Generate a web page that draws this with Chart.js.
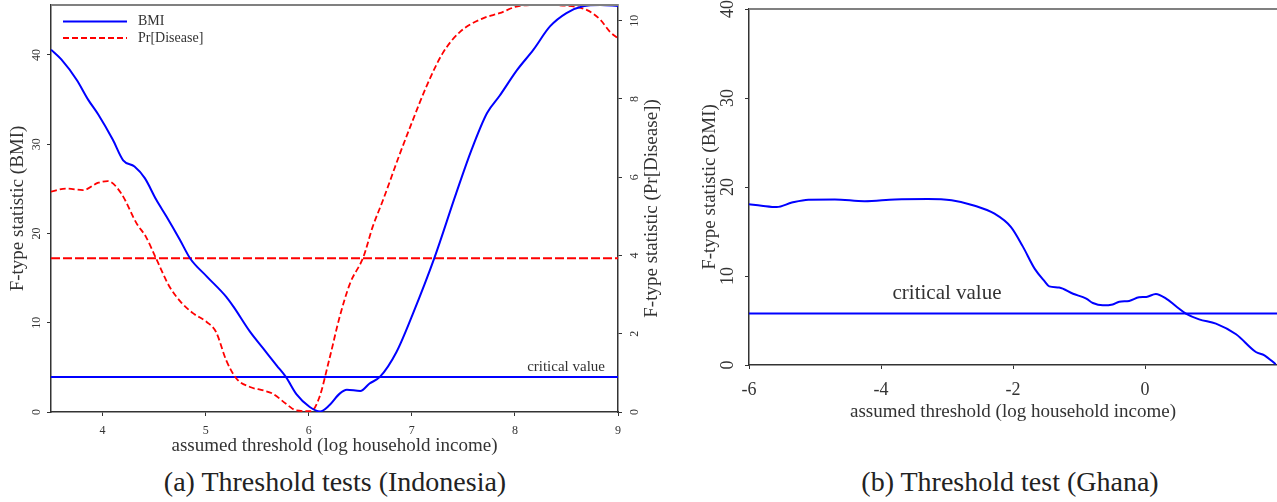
<!DOCTYPE html>
<html><head><meta charset="utf-8">
<script src="https://cdn.jsdelivr.net/npm/chart.js@4.4.1/dist/chart.umd.min.js"></script>
<style>
html,body{margin:0;padding:0;background:#fff;width:1277px;height:502px;overflow:hidden;position:relative}
#c1wrap{position:absolute;left:0;top:0;width:680px;height:460px}
#c2wrap{position:absolute;left:680px;top:0;width:597px;height:430px}
.cap{position:absolute;top:466px;font-family:"Liberation Serif",serif;font-size:28px;color:#222;white-space:nowrap;transform:translateX(-50%);line-height:32px}
</style></head>
<body>
<div id="c1wrap"><canvas id="c1"></canvas></div>
<div id="c2wrap"><canvas id="c2"></canvas></div>
<div class="cap" style="left:335px">(a) Threshold tests (Indonesia)</div>
<div class="cap" style="left:1010px">(b) Threshold test (Ghana)</div>
<script>
// ---------- Data: Indonesia ----------
const idnBmiX = [3.50,3.60,3.75,3.86,3.96,4.10,4.20,4.31,4.41,4.52,4.62,4.75,4.85,5.01,5.20,5.27,5.43,5.56,5.69,5.78,5.88,6.01,6.11,6.20,6.30,6.37,6.50,6.59,6.69,6.85,7.01,7.22,7.43,7.58,7.73,7.85,8.02,8.18,8.34,8.50,8.66,8.83,9.00];
const idnBmiY = [40.6,39.5,37.2,35.0,33.3,30.5,28.2,27.5,26.2,23.8,21.9,19.3,17.2,15.2,12.9,11.8,9.0,7.1,5.2,3.9,2.0,0.56,0.05,0.75,2.06,2.5,2.36,3.19,3.93,6.7,11.0,17.3,24.5,29.4,33.5,35.4,38.3,40.6,43.2,44.7,45.45,45.6,45.5];
const idnPrX = [3.50,3.65,3.81,3.96,4.05,4.18,4.33,4.42,4.52,4.65,4.76,4.88,5.01,5.10,5.20,5.30,5.43,5.56,5.65,5.78,5.88,6.02,6.10,6.20,6.30,6.40,6.53,6.62,6.72,6.88,7.01,7.14,7.30,7.47,7.69,7.85,8.05,8.24,8.50,8.70,8.83,8.92,9.00];
const idnPrY = [5.63,5.71,5.67,5.86,5.90,5.59,4.82,4.48,3.92,3.20,2.81,2.52,2.30,2.05,1.32,0.85,0.64,0.55,0.47,0.21,0.04,0.02,0.35,1.35,2.43,3.28,3.96,4.73,5.41,6.57,7.46,8.31,9.17,9.72,10.06,10.19,10.38,10.40,10.38,10.27,10.02,9.72,9.55];
const idnCrit = 3.93;
const idnXTicks = [4,5,6,7,8,9];
const idnBmiTicks = [0,10,20,30,40];
const idnPrTicks = [0,2,4,6,8,10];

// ---------- Data: Ghana ----------
const ghaX = [-6.00,-5.81,-5.58,-5.35,-5.10,-4.70,-4.25,-3.79,-3.29,-2.93,-2.58,-2.28,-2.03,-1.85,-1.67,-1.52,-1.45,-1.30,-1.09,-0.89,-0.79,-0.64,-0.49,-0.39,-0.24,-0.09,0.02,0.165,0.32,0.47,0.62,0.82,1.075,1.38,1.68,1.81,1.98];
const ghaY = [18.06,17.9,17.75,18.25,18.58,18.6,18.4,18.6,18.65,18.5,17.9,17.0,15.5,13.3,10.8,9.4,8.84,8.7,8.0,7.46,6.97,6.7,6.8,7.1,7.2,7.6,7.65,7.98,7.46,6.6,5.78,5.13,4.65,3.45,1.46,1.09,0.08];
const ghaCrit = 5.78;
const ghaXTicks = [-6,-4,-2,0];
const ghaYTicks = [0,10,20,30,40];
const ghaLabelX = -3;

const BLUE = '#0000ff', RED = '#ff0000', INK = '#333333';
const SERIF = '"Liberation Serif", "Times New Roman", serif';
const zip = (xs, ys) => xs.map((x, i) => ({x, y: ys[i]}));
const setTicks = arr => s => { s.ticks = arr.map(v => ({value: v})); };
const fixW = w => s => { s.width = w; s.paddingTop = 0; s.paddingBottom = 0; };
const fixH = h => s => { s.height = h; s.paddingLeft = 0; s.paddingRight = 0; };

// frame plugin: gray top border
const frame = {
  id: 'frame',
  afterDraw(chart) {
    const a = chart.chartArea, c = chart.ctx;
    c.save(); c.strokeStyle = '#808080'; c.lineWidth = 2;
    c.beginPath(); c.moveTo(a.left, a.top); c.lineTo(a.right, a.top); c.stroke();
    c.restore();
  }
};

// ---------- Chart (a) ----------
const idnExtras = {
  id: 'idnExtras',
  afterDraw(chart) {
    const a = chart.chartArea, c = chart.ctx;
    c.save();
    // legend
    const items = chart.data.datasets.filter(d => d.showInLegend);
    items.forEach((d, i) => {
      const y = a.top + 16.5 + i * 16.5;
      c.strokeStyle = d.borderColor; c.lineWidth = 2;
      c.setLineDash(d.borderDash || []);
      c.beginPath(); c.moveTo(a.left + 12, y); c.lineTo(a.left + 76, y); c.stroke();
      c.setLineDash([]);
      c.fillStyle = INK; c.font = '14px ' + SERIF; c.textBaseline = 'middle'; c.textAlign = 'left';
      c.fillText(d.label, a.left + 87, y);
    });
    // critical value label
    const yc = chart.scales.y.getPixelForValue(idnCrit);
    c.font = '15px ' + SERIF; c.textAlign = 'right'; c.textBaseline = 'middle'; c.fillStyle = INK;
    c.fillText('critical value', a.right - 13, yc - 10);
    // right axis title
    c.translate(a.right + 34, (a.top + a.bottom) / 2);
    c.rotate(-Math.PI / 2);
    c.font = '19px ' + SERIF; c.textAlign = 'center'; c.textBaseline = 'middle';
    c.fillText('F-type statistic (Pr[Disease])', 0, 0);
    c.restore();
  }
};

new Chart(document.getElementById('c1'), {
  type: 'line',
  data: {
    datasets: [
      {label: 'BMI', data: zip(idnBmiX, idnBmiY), borderColor: BLUE, borderWidth: 2, yAxisID: 'y', showInLegend: true},
      {label: 'Pr[Disease]', data: zip(idnPrX, idnPrY), borderColor: RED, borderWidth: 1.8, borderDash: [6, 3], yAxisID: 'y1', showInLegend: true},
      {label: 'critical BMI', data: [{x: 3.5, y: idnCrit}, {x: 9, y: idnCrit}], borderColor: BLUE, borderWidth: 2, yAxisID: 'y'},
      {label: 'critical Pr', data: [{x: 3.5, y: idnCrit}, {x: 9, y: idnCrit}], borderColor: RED, borderWidth: 2, borderDash: [9, 3], yAxisID: 'y1'}
    ]
  },
  options: {
    responsive: true, maintainAspectRatio: false, animation: false, devicePixelRatio: 1,
    layout: {padding: {top: 5, right: 0, left: 0, bottom: 0}},
    elements: {point: {radius: 0}, line: {cubicInterpolationMode: 'monotone', fill: false}},
    plugins: {legend: {display: false}, tooltip: {enabled: false}},
    scales: {
      x: {
        type: 'linear', min: 3.5, max: 9, afterBuildTicks: setTicks(idnXTicks),
        afterFit: fixH(48),
        ticks: {font: {family: SERIF, size: 12}, color: INK, padding: 8, autoSkip: false, maxRotation: 0},
        grid: {drawOnChartArea: false, tickLength: 4, color: INK, tickColor: INK},
        border: {color: INK, width: 1.5},
        title: {display: true, text: 'assumed threshold (log household income)', font: {family: SERIF, size: 19}, color: INK, padding: {top: 0, bottom: 3}}
      },
      y: {
        type: 'linear', position: 'left', min: 0, max: 45.6, afterBuildTicks: setTicks(idnBmiTicks),
        afterFit: fixW(51),
        ticks: {font: {family: SERIF, size: 12}, color: INK, padding: 4, minRotation: 90, maxRotation: 90, crossAlign: 'center'},
        grid: {drawOnChartArea: false, tickLength: 4, color: INK, tickColor: INK},
        border: {color: INK, width: 1.5},
        title: {display: true, text: 'F-type statistic (BMI)', font: {family: SERIF, size: 19}, color: INK, padding: {top: 7, bottom: 0}}
      },
      y1: {
        type: 'linear', position: 'right', min: 0, max: 10.4, afterBuildTicks: setTicks(idnPrTicks),
        afterFit: fixW(62),
        ticks: {font: {family: SERIF, size: 12}, color: INK, padding: 7, minRotation: 90, maxRotation: 90, crossAlign: 'center'},
        grid: {drawOnChartArea: false, tickLength: 4, color: INK, tickColor: INK},
        border: {color: INK, width: 1.5}
      }
    }
  },
  plugins: [frame, idnExtras]
});

// ---------- Chart (b) ----------
const ghaExtras = {
  id: 'ghaExtras',
  afterDraw(chart) {
    const c = chart.ctx;
    const yc = chart.scales.y.getPixelForValue(ghaCrit);
    const xc = chart.scales.x.getPixelForValue(ghaLabelX);
    c.save();
    c.font = '21px ' + SERIF; c.textAlign = 'center'; c.textBaseline = 'middle'; c.fillStyle = INK;
    c.fillText('critical value', xc, yc - 20);
    c.restore();
  }
};

new Chart(document.getElementById('c2'), {
  type: 'line',
  data: {
    datasets: [
      {label: 'BMI', data: zip(ghaX, ghaY), borderColor: BLUE, borderWidth: 2},
      {label: 'critical value', data: [{x: -6, y: ghaCrit}, {x: 2, y: ghaCrit}], borderColor: BLUE, borderWidth: 2}
    ]
  },
  options: {
    responsive: true, maintainAspectRatio: false, animation: false, devicePixelRatio: 1,
    layout: {padding: {top: 9, right: 0, left: 0, bottom: 0}},
    elements: {point: {radius: 0}, line: {cubicInterpolationMode: 'monotone', fill: false}},
    plugins: {legend: {display: false}, tooltip: {enabled: false}},
    scales: {
      x: {
        type: 'linear', min: -6, max: 2, afterBuildTicks: setTicks(ghaXTicks),
        afterFit: fixH(65),
        ticks: {font: {family: SERIF, size: 18}, color: INK, padding: 10, autoSkip: false, maxRotation: 0},
        grid: {drawOnChartArea: false, tickLength: 4, color: INK, tickColor: INK},
        border: {color: INK, width: 1.5},
        title: {display: true, text: 'assumed threshold (log household income)', font: {family: SERIF, size: 19}, color: INK, padding: {top: 0, bottom: 7}}
      },
      y: {
        type: 'linear', position: 'left', min: 0, max: 40, afterBuildTicks: setTicks(ghaYTicks),
        afterFit: fixW(69),
        ticks: {font: {family: SERIF, size: 18}, color: INK, padding: 8, minRotation: 90, maxRotation: 90, crossAlign: 'center'},
        grid: {drawOnChartArea: false, tickLength: 4, color: INK, tickColor: INK},
        border: {color: INK, width: 1.5},
        title: {display: true, text: 'F-type statistic (BMI)', font: {family: SERIF, size: 19}, color: INK, padding: {top: 19, bottom: 0}}
      }
    }
  },
  plugins: [frame, ghaExtras]
});
</script>
</body></html>
